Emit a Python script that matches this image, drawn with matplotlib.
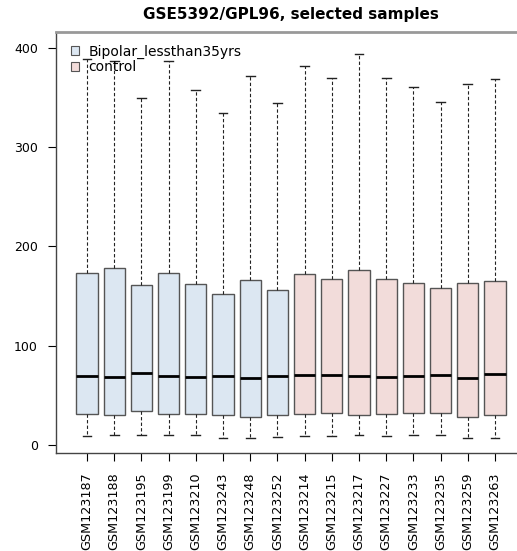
from __future__ import annotations

import matplotlib

matplotlib.use("Agg")
import matplotlib.pyplot as plt
from matplotlib.patches import Patch

samples = [
    "GSM123187", "GSM123188", "GSM123195", "GSM123199", "GSM123210",
    "GSM123243", "GSM123248", "GSM123252", "GSM123214", "GSM123215",
    "GSM123217", "GSM123227", "GSM123233", "GSM123235", "GSM123259",
    "GSM123263",
]
groups = ["Bipolar_lessthan35yrs"] * 8 + ["control"] * 8

whis_lo = [9, 10, 10, 10, 10, 7, 7, 8, 9, 9, 10, 9, 10, 10, 7, 7]
q1 = [31, 30, 34, 31, 31, 30.5, 28, 30, 31.5, 32, 30, 31, 32, 32.5, 28, 30]
median = [69.5, 68.5, 73, 70, 68.5, 70, 67.5, 69.5, 70.5, 70.5, 69.5, 68.5, 69.5, 70.5, 68, 71.5]
q3 = [173.5, 178, 161, 173, 162, 152, 166, 156, 172, 167.5, 176, 167, 163, 158, 163, 165]
whis_hi = [389, 387, 350, 387, 358, 334, 371.5, 344, 382, 370, 394, 370, 360.5, 346, 363.5, 368.5]

colors = {"Bipolar_lessthan35yrs": "#dce7f2", "control": "#f2dcda"}


def main() -> None:
    fig = plt.figure(figsize=(5.17, 5.51), dpi=100)
    ax = fig.add_axes([56 / 517, 1 - 453 / 551, 470 / 517, 421 / 551])

    stats = [
        {"whislo": lo, "q1": a, "med": m, "q3": b, "whishi": hi, "fliers": []}
        for lo, a, m, b, hi in zip(whis_lo, q1, median, q3, whis_hi)
    ]
    positions = list(range(1, len(samples) + 1))
    parts = ax.bxp(
        stats,
        positions=positions,
        widths=0.78,
        capwidths=0.32,
        patch_artist=True,
        showfliers=False,
        boxprops=dict(edgecolor="#555555", linewidth=1.0),
        medianprops=dict(color="black", linewidth=2.0, solid_capstyle="butt"),
        whiskerprops=dict(color="#222222", linewidth=0.8, linestyle=(0, (3, 2))),
        capprops=dict(color="#222222", linewidth=1.0),
    )
    for patch, grp in zip(parts["boxes"], groups):
        patch.set_facecolor(colors[grp])

    ax.set_xlim(-0.14, 17.14)
    ax.set_ylim(-8, 416)
    ax.set_yticks([0, 100, 200, 300, 400])
    ax.set_xticks(positions)
    ax.set_xticklabels(samples, rotation=90, fontsize=9.2)
    ax.tick_params(axis="y", labelsize=9, length=6, pad=7, width=0.8)
    ax.tick_params(axis="x", length=6, pad=8, width=0.8)

    for side in ["left", "bottom", "right"]:
        ax.spines[side].set_color("#444444")
        ax.spines[side].set_linewidth(1.0)
    ax.spines["top"].set_color("#999999")
    ax.spines["top"].set_linewidth(2.0)

    handles = [
        Patch(facecolor=colors[g], edgecolor="#555555", linewidth=0.8)
        for g in ["Bipolar_lessthan35yrs", "control"]
    ]
    ax.legend(
        handles,
        ["Bipolar_lessthan35yrs", "control"],
        loc="upper left",
        bbox_to_anchor=(0.015, 0.99),
        frameon=False,
        fontsize=10,
        handlelength=0.55,
        handleheight=0.55,
        handletextpad=0.7,
        labelspacing=0.12,
        borderaxespad=0.2,
    )

    fig.text(291 / 517, 1 - 14 / 551, "GSE5392/GPL96, selected samples",
             ha="center", va="center", fontsize=11, fontweight="bold")

    fig.savefig("out.png", dpi=100)
    plt.close(fig)


if __name__ == "__main__":
    main()
